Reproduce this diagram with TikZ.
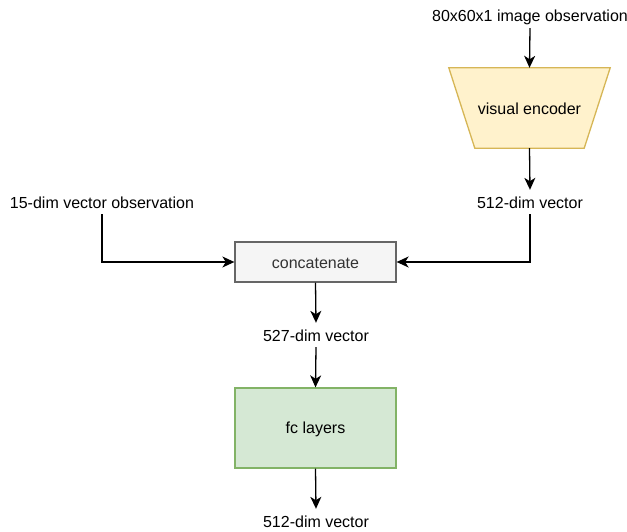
\documentclass[tikz,border=0pt]{standalone}
\usepackage{fontspec}
\setmainfont{Liberation Sans}
\usetikzlibrary{arrows.meta}

\definecolor{encfill}{HTML}{FFF2CC}
\definecolor{encline}{HTML}{D6B656}
\definecolor{catfill}{HTML}{F5F5F5}
\definecolor{catline}{HTML}{666666}
\definecolor{cattext}{HTML}{333333}
\definecolor{fcfill}{HTML}{D5E8D4}
\definecolor{fcline}{HTML}{82B366}

\tikzset{
  lbl/.style={inner xsep=2pt, inner ysep=4pt, text height=14pt, text depth=2pt},
  block/.style={draw, line width=1.3pt, minimum width=161pt, inner sep=0pt},
  flow/.style={line width=1.3pt, -{Stealth[length=12pt, width=11pt, inset=3.5pt]}},
}

\begin{document}
\begin{tikzpicture}[x=1pt, y=-1pt, font=\fontsize{16}{19}\selectfont]
  \useasboundingbox (0,0) rectangle (627,532);

  % image branch: encoder drawn as an inverted trapezoid
  \node[lbl] (imgobs) at (530,16) {80x60x1 image observation};
  \node[minimum width=161pt, minimum height=80pt, inner sep=0pt]
        (enc) at (529.5,108) {};
  \filldraw[draw=encline, fill=encfill, line width=1.3pt, line join=miter]
    (enc.north west) -- (enc.north east)
    -- ([xshift=-26pt]enc.south east) -- ([xshift=26pt]enc.south west) -- cycle;
  \node at ([yshift=-1pt]enc.center) {visual encoder};
  \node[lbl] (imgvec) at (530,202) {512-dim vector};

  % vector branch
  \node[lbl] (vecobs) at (102,202) {15-dim vector observation};

  % fusion
  \node[block, draw=catline, fill=catfill, text=cattext, minimum height=40pt]
        (cat) at (315.5,262) {};
  \node[text=cattext] at ([yshift=-1pt]cat.center) {concatenate};
  \node[lbl] (catvec) at (316,335) {527-dim vector};
  \node[block, draw=fcline, fill=fcfill, minimum height=80pt]
        (fc) at (315.5,428) {};
  \node at ([yshift=-1.5pt]fc.center) {fc layers};
  \node[lbl] (outvec) at (316,521) {512-dim vector};

  % connectors
  \draw[flow] (imgobs.south) -- (enc.north);
  \draw[flow] (enc.south) -- (imgvec.north);
  \draw[flow] (imgvec.south) |- (cat.east);
  \draw[flow] (vecobs.south) |- (cat.west);
  \draw[flow] (cat.south) -- (catvec.north);
  \draw[flow] (catvec.south) -- (fc.north);
  \draw[flow] (fc.south) -- (outvec.north);
\end{tikzpicture}
\end{document}
